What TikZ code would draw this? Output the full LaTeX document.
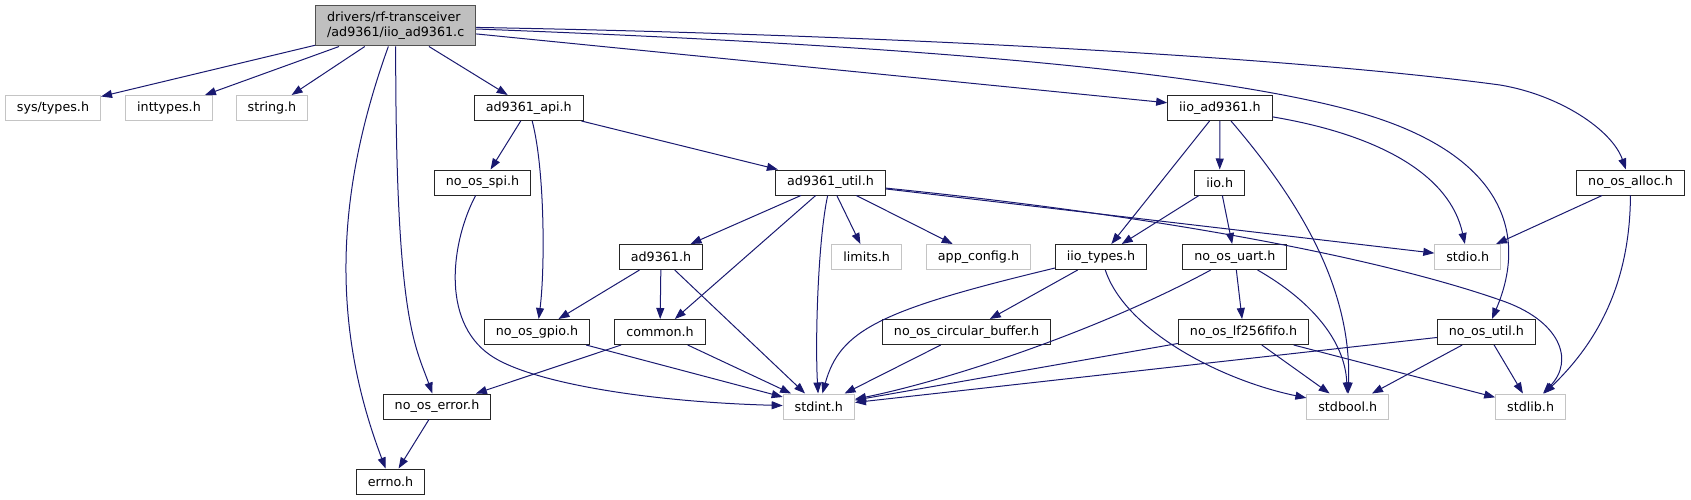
\documentclass[tikz,border=0pt]{standalone}
\usepackage{fontspec}
\setmainfont{DejaVu Sans}
\usepackage{tikz}
\usetikzlibrary{arrows.meta, positioning}
\definecolor{edgeblue}{HTML}{191970}
\definecolor{rootgrey}{HTML}{BFBFBF}
\definecolor{extgrey}{HTML}{C4C4C4}
\definecolor{boxline}{HTML}{262626}

\begin{document}
\begin{tikzpicture}[x=1pt, y=-1pt,
    font=\fontsize{12.7}{15}\selectfont,
    hdr/.style={draw=boxline, line width=1pt, fill=white, inner xsep=11.5pt,
        inner ysep=0pt, minimum height=25pt},
    ext/.style={hdr, draw=extgrey},
    rootnode/.style={hdr, fill=rootgrey, draw=boxline!80, align=left,
        minimum height=40pt, minimum width=160pt},
    incl/.style={draw=edgeblue, line width=1pt,
        -{Triangle[length=11pt,width=8pt]}}]

    \useasboundingbox (0,0) rectangle (1691,500);

    % Root file
    \node[rootnode] (iioc) at (395.7,26) {drivers/rf-transceiver\\/ad9361/iio\_ad9361.c};

    % First level
    \node[ext] (systypes) at (53,108) {sys/types.h};
    \node[ext] (inttypes) at (169,108) {inttypes.h};
    \node[ext] (stringh) at (272,108) {string.h};
    \node[hdr] (api) at (528.8,108) {ad9361\_api.h};
    \node[hdr] (iioad) at (1219.9,108) {iio\_ad9361.h};

    % Second level
    \node[hdr] (spi) at (482.5,182.5) {no\_os\_spi.h};
    \node[hdr] (util) at (830.5,182.5) {ad9361\_util.h};
    \node[hdr] (iio) at (1219.7,182.5) {iio.h};
    \node[hdr] (alloc) at (1630.5,182.5) {no\_os\_alloc.h};

    % Third level
    \node[hdr] (adh) at (661,257) {ad9361.h};
    \node[ext] (limits) at (866.7,257) {limits.h};
    \node[ext] (appcfg) at (978.5,257) {app\_config.h};
    \node[hdr] (iiotypes) at (1101,257) {iio\_types.h};
    \node[hdr] (uart) at (1234.8,257) {no\_os\_uart.h};
    \node[ext] (stdio) at (1467.7,257) {stdio.h};

    % Fourth level
    \node[hdr] (gpio) at (537,332) {no\_os\_gpio.h};
    \node[hdr] (common) at (660,332) {common.h};
    \node[hdr] (circbuf) at (966.5,332) {no\_os\_circular\_buffer.h};
    \node[hdr] (fifo) at (1243.6,332) {no\_os\_lf256fifo.h};
    \node[hdr] (osutil) at (1486.4,332) {no\_os\_util.h};

    % Fifth and sixth level
    \node[hdr] (error) at (437,406.5) {no\_os\_error.h};
    \node[ext] (stdint) at (818.8,406.5) {stdint.h};
    \node[ext] (stdbool) at (1347.8,406.5) {stdbool.h};
    \node[ext] (stdlib) at (1530.6,406.5) {stdlib.h};
    \node[hdr] (errno) at (390.5,481.5) {errno.h};

    % Includes of the root file
    \draw[incl] (iioc) -- (systypes);
    \draw[incl] (iioc) -- (inttypes);
    \draw[incl] (iioc) -- (stringh);
    \draw[incl] (iioc) -- (api);
    \draw[incl] (iioc) .. controls (333,200) and (333,330) .. (errno);
    \draw[incl] (iioc) .. controls (395.5,320) and (415,345) .. (error);
    \draw[incl] (iioc) -- (iioad);
    \draw[incl] (iioc) .. controls (900,45) and (1200,70) .. (1350,110)
        .. controls (1500,150) and (1530,230) .. (osutil);
    \draw[incl] (iioc) .. controls (900,35) and (1300,58) .. (1500,85)
        .. controls (1560,95) and (1612,130) .. (alloc);

    % ad9361_api.h
    \draw[incl] (api) -- (spi);
    \draw[incl] (api) .. controls (545,170) and (545,270) .. (gpio);
    \draw[incl] (api) -- (util);
    \draw[incl] (spi) .. controls (452,240) and (440,320) .. (490,355)
        .. controls (530,383) and (650,402) .. (stdint);

    % ad9361_util.h
    \draw[incl] (util) -- (adh);
    \draw[incl] (util) -- (common);
    \draw[incl] (util) .. controls (818,240) and (815,340) .. (stdint);
    \draw[incl] (util) -- (limits);
    \draw[incl] (util) -- (appcfg);
    \draw[incl] (util) -- (stdio);
    \draw[incl] (util) .. controls (1200,220) and (1400,265) .. (1500,300)
        .. controls (1560,320) and (1575,360) .. (stdlib);

    % ad9361.h, no_os_gpio.h, common.h, no_os_error.h
    \draw[incl] (adh) -- (gpio);
    \draw[incl] (adh) -- (common);
    \draw[incl] (adh) -- (stdint);
    \draw[incl] (gpio) -- (stdint);
    \draw[incl] (common) -- (error);
    \draw[incl] (common) -- (stdint);
    \draw[incl] (error) -- (errno);

    % iio_ad9361.h and iio.h
    \draw[incl] (iioad) -- (iio);
    \draw[incl] (iioad) -- (iiotypes);
    \draw[incl] (iioad) .. controls (1290,190) and (1352,280) .. (stdbool);
    \draw[incl] (iioad) .. controls (1380,135) and (1450,175) .. (stdio);
    \draw[incl] (iio) -- (iiotypes);
    \draw[incl] (iio) -- (uart);

    % iio_types.h and no_os_circular_buffer.h
    \draw[incl] (iiotypes) .. controls (880,310) and (840,330) .. (stdint);
    \draw[incl] (iiotypes) -- (circbuf);
    \draw[incl] (iiotypes) .. controls (1125,330) and (1220,380) .. (stdbool);
    \draw[incl] (circbuf) -- (stdint);

    % no_os_uart.h and no_os_lf256fifo.h
    \draw[incl] (uart) .. controls (1100,330) and (950,380) .. (stdint);
    \draw[incl] (uart) -- (fifo);
    \draw[incl] (uart) .. controls (1310,300) and (1345,340) .. (stdbool);
    \draw[incl] (fifo) -- (stdint);
    \draw[incl] (fifo) -- (stdbool);
    \draw[incl] (fifo) -- (stdlib);

    % no_os_util.h and no_os_alloc.h
    \draw[incl] (osutil) -- (stdint);
    \draw[incl] (osutil) -- (stdbool);
    \draw[incl] (osutil) -- (stdlib);
    \draw[incl] (alloc) -- (stdio);
    \draw[incl] (alloc) .. controls (1630,280) and (1600,340) .. (stdlib);
\end{tikzpicture}
\end{document}
